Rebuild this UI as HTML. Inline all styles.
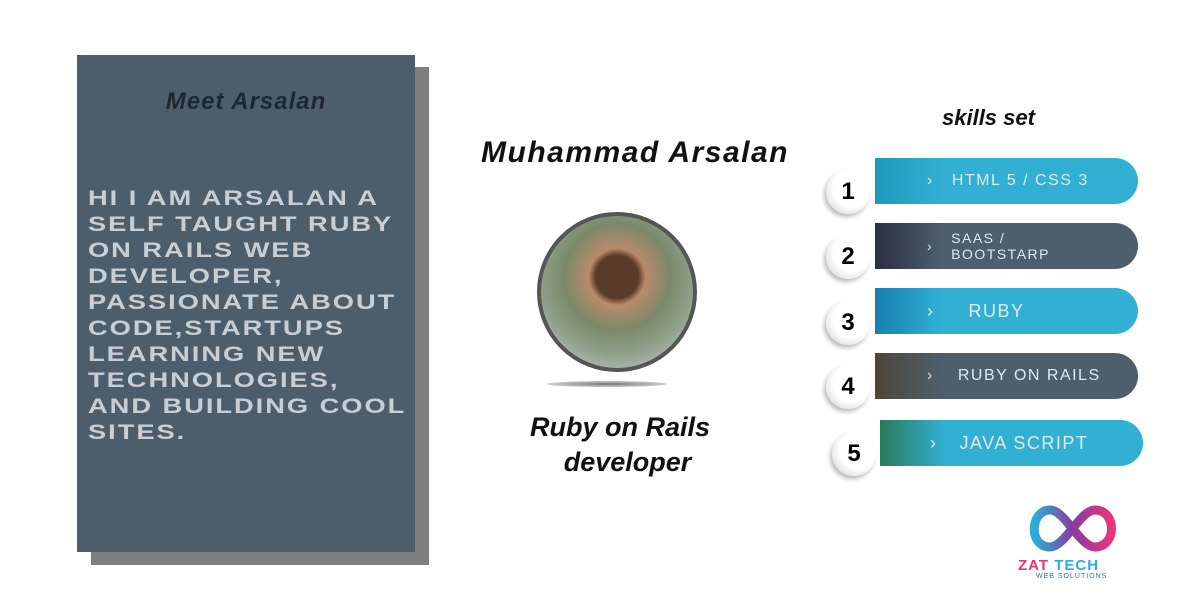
<!DOCTYPE html>
<html><head><meta charset="utf-8"><style>
body{margin:0;width:1200px;height:600px;background:#fff;position:relative;overflow:hidden;font-family:"Liberation Sans",sans-serif}
.a{position:absolute}
.shadow{left:91px;top:67px;width:338px;height:498px;background:#7f7f7f}
.panel{left:77px;top:55px;width:338px;height:497px;background:#4c5e6c}
.bio{left:88px;top:186px;width:330px;color:#c9ced3;font-weight:bold;font-size:21px;line-height:26px;letter-spacing:1.5px;text-transform:uppercase;transform:scaleX(1.3);transform-origin:left;white-space:nowrap}
.pill{position:absolute;height:46px;border-radius:0 23px 23px 0;color:#dfe9ef;font-size:16px;letter-spacing:1.5px;display:flex;align-items:center}
.num{position:absolute;width:44px;height:44px;border-radius:50%;background:radial-gradient(circle at 60% 40%,#fff 50%,#ccc 100%);box-shadow:-2px 3px 4px #bbb;font-weight:bold;font-size:24px;text-align:center;line-height:44px;color:#000}
</style></head><body>
<div class="a shadow"></div>
<div class="a panel"></div>
<div class="a" style="left:77px;width:338px;top:88px;text-align:center;font-style:italic;font-weight:bold;font-size:24px;color:#1e2730;letter-spacing:1px">Meet Arsalan</div>
<div class="a bio">Hi I am Arsalan a<br>self taught ruby<br>on rails web<br>developer,<br>passionate about<br>code,startups<br>learning new<br>technologies,<br>and building cool<br>sites.</div>

<div class="a" style="left:460px;top:136px;width:350px;text-align:center;font-style:italic;font-weight:bold;font-size:30px;color:#111;letter-spacing:1.5px">Muhammad Arsalan</div>
<div class="a" style="left:537px;top:212px;width:152px;height:152px;border-radius:50%;border:4px solid #555;background:radial-gradient(circle at 50% 40%,#5a3a28 18%,#b98a6b 24%,#7a8a6a 45%,#8fa08a 65%,#d0d8dc 100%)"></div>
<div class="a" style="left:547px;top:381px;width:120px;height:6px;border-radius:50%;background:radial-gradient(ellipse,#777,#ccc 70%,transparent)"></div>
<div class="a" style="left:500px;top:410px;width:240px;text-align:center;font-style:italic;font-weight:bold;font-size:27px;line-height:35px;color:#111">Ruby on Rails<br>&nbsp;&nbsp;developer</div>

<div class="a" style="left:942px;top:105px;font-style:italic;font-weight:bold;font-size:22px;color:#111">skills set</div>

<div class="pill" style="left:875px;top:158px;width:263px;background:linear-gradient(90deg,#1e9ab8,#31b0d4 25%)"><span style="margin-left:52px">›</span><span style="margin-left:18px">HTML 5 / CSS 3</span></div>
<div class="num" style="left:826px;top:170px">1</div>
<div class="pill" style="left:875px;top:223px;width:263px;background:linear-gradient(90deg,#2a2f40,#4e5e6c 25%);font-size:14px;line-height:16px"><span style="margin-left:52px">›</span><span style="margin-left:18px">SAAS /<br>BOOTSTARP</span></div>
<div class="num" style="left:826px;top:235px">2</div>
<div class="pill" style="left:875px;top:288px;width:263px;background:linear-gradient(90deg,#1780b0,#31b0d4 25%);font-size:18px"><span style="margin-left:52px">›</span><span style="margin-left:34px">RUBY</span></div>
<div class="num" style="left:826px;top:301px">3</div>
<div class="pill" style="left:875px;top:353px;width:263px;background:linear-gradient(90deg,#4e4638,#4e5e6c 25%)"><span style="margin-left:52px">›</span><span style="margin-left:24px">RUBY ON RAILS</span></div>
<div class="num" style="left:826px;top:365px">4</div>
<div class="pill" style="left:880px;top:420px;width:263px;background:linear-gradient(90deg,#2a7a5a,#31b0d4 25%);font-size:18px"><span style="margin-left:50px">›</span><span style="margin-left:22px">JAVA SCRIPT</span></div>
<div class="num" style="left:832px;top:432px">5</div>

<svg class="a" style="left:1025px;top:502px" width="95" height="55" viewBox="0 0 95 55">
<defs><linearGradient id="g" x1="0" x2="1"><stop offset="0" stop-color="#2ab0d8"/><stop offset=".5" stop-color="#8a3aa0"/><stop offset="1" stop-color="#e8357a"/></linearGradient></defs>
<path d="M25 8 C5 8 3 45 25 45 C40 45 55 8 70 8 C92 8 92 45 70 45 C55 45 40 8 25 8Z" fill="none" stroke="url(#g)" stroke-width="9"/>
</svg>
<div class="a" style="left:1018px;top:557px;font-weight:bold;font-size:15px;letter-spacing:1px"><span style="color:#e8357a">ZAT</span> <span style="color:#2ab0d8">TECH</span></div>
<div class="a" style="left:1036px;top:573px;font-size:7px;letter-spacing:1px;color:#2a70b0">WEB SOLUTIONS</div>
</body></html>
